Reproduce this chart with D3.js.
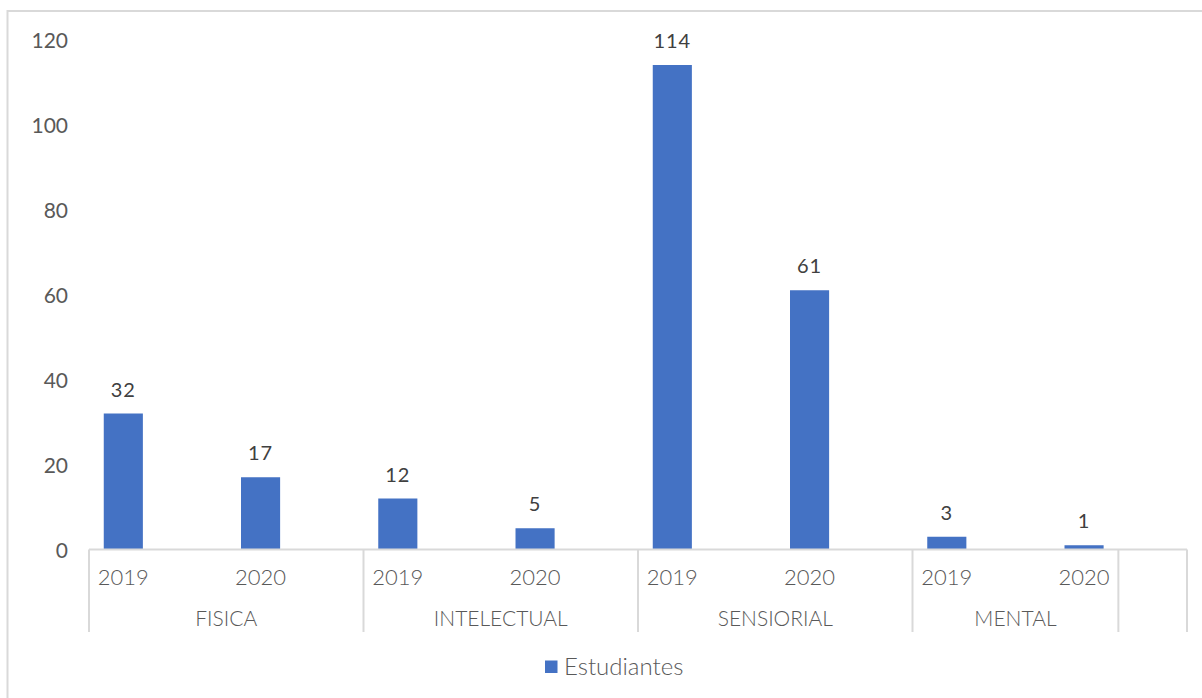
<!DOCTYPE html>
<html>
<head>
<meta charset="utf-8">
<script src="https://cdn.jsdelivr.net/npm/d3@7"></script>
<style>
  body { margin: 0; background: #fff; }
  text { font-family: Lato, "Open Sans", sans-serif; }
</style>
</head>
<body>
<div id="chart"></div>
<script>
// data
var groups = ["FISICA", "INTELECTUAL", "SENSIORIAL", "MENTAL"];
var years = ["2019", "2020"];
var values = [32, 17, 12, 5, 114, 61, 3, 1];
var yTicks = [0, 20, 40, 60, 80, 100, 120];
var seriesName = "Estudiantes";

var width = 1202, height = 698;
var barColor = "#4472c4", lineColor = "#d9d9d9";

var svg = d3.select("#chart").append("svg")
  .attr("width", width)
  .attr("height", height);

// outer frame (only top + left visible)
svg.append("path")
  .attr("d", "M7.5,698 V11 H1202")
  .attr("fill", "none")
  .attr("stroke", lineColor)
  .attr("stroke-width", 2);

// Excel layout: 16 half-slots, each bar sits in its own slot, a blank one after it
var x = d3.scaleLinear().domain([0, 16]).range([89, 1187]);
var y = d3.scaleLinear().domain([0, 120]).range([549.5, 39.5]);
var slotW = x(1) - x(0);
var barW = slotW * 0.57;

// bar records
var bars = [];
groups.forEach(function(g, gi) {
  years.forEach(function(yr, yi) {
    bars.push({group: g, year: yr, value: values[gi * 2 + yi], slot: gi * 4 + yi * 2});
  });
});

// y axis labels
svg.append("g").selectAll("text")
  .data(yTicks)
  .enter().append("text")
  .attr("x", 68)
  .attr("y", function(d) { return y(d); })
  .attr("text-anchor", "end")
  .attr("dominant-baseline", "central")
  .attr("font-size", 21)
  .attr("fill", "#595959")
  .text(function(d) { return d; });

// bars
svg.append("g").selectAll("rect")
  .data(bars)
  .enter().append("rect")
  .attr("x", function(d) { return x(d.slot + 0.5) - barW / 2; })
  .attr("y", function(d) { return y(d.value); })
  .attr("width", barW)
  .attr("height", function(d) { return y(0) - y(d.value); })
  .attr("fill", barColor);

// data labels
svg.append("g").selectAll("text")
  .data(bars)
  .enter().append("text")
  .attr("x", function(d) { return x(d.slot + 0.5); })
  .attr("y", function(d) { return y(d.value) - 17; })
  .attr("text-anchor", "middle")
  .attr("font-size", 20)
  .attr("letter-spacing", 1)
  .attr("fill", "#404040")
  .text(function(d) { return d.value; });

// category axis: baseline + group dividers
var axisG = svg.append("g");
axisG.append("line")
  .attr("x1", x(0)).attr("x2", x(16))
  .attr("y1", y(0)).attr("y2", y(0))
  .attr("stroke", lineColor).attr("stroke-width", 2);

var groupStarts = groups.map(function(g, gi) { return gi * 4; });
var groupEnds = groups.map(function(g, gi) { return gi < groups.length - 1 ? gi * 4 + 4 : gi * 4 + 3; });
var dividers = groupStarts.concat([groupEnds[groupEnds.length - 1], 16]);

axisG.selectAll("line.div")
  .data(dividers)
  .enter().append("line")
  .attr("class", "div")
  .attr("x1", function(d) { return x(d); }).attr("x2", function(d) { return x(d); })
  .attr("y1", y(0)).attr("y2", 632)
  .attr("stroke", lineColor).attr("stroke-width", 2);

// year labels
axisG.selectAll("text.yr")
  .data(bars)
  .enter().append("text")
  .attr("class", "yr")
  .attr("x", function(d) { return x(d.slot + 0.5); })
  .attr("y", 585)
  .attr("text-anchor", "middle")
  .attr("font-size", 22)
  .attr("font-weight", 300)
  .attr("fill", "#595959")
  .text(function(d) { return d.year; });

// group labels
axisG.selectAll("text.grp")
  .data(groups)
  .enter().append("text")
  .attr("class", "grp")
  .attr("x", function(d, i) { return (x(groupStarts[i]) + x(groupEnds[i])) / 2; })
  .attr("y", 626)
  .attr("text-anchor", "middle")
  .attr("font-size", 21)
  .attr("font-weight", 300)
  .attr("fill", "#595959")
  .text(function(d) { return d; });

// legend
var legend = svg.append("g");
legend.append("rect")
  .attr("x", 545).attr("y", 660.5)
  .attr("width", 12.5).attr("height", 12.5)
  .attr("fill", barColor);
legend.append("text")
  .attr("x", 564).attr("y", 675)
  .attr("font-size", 24)
  .attr("font-weight", 300)
  .attr("fill", "#595959")
  .text(seriesName);
</script>
</body>
</html>
